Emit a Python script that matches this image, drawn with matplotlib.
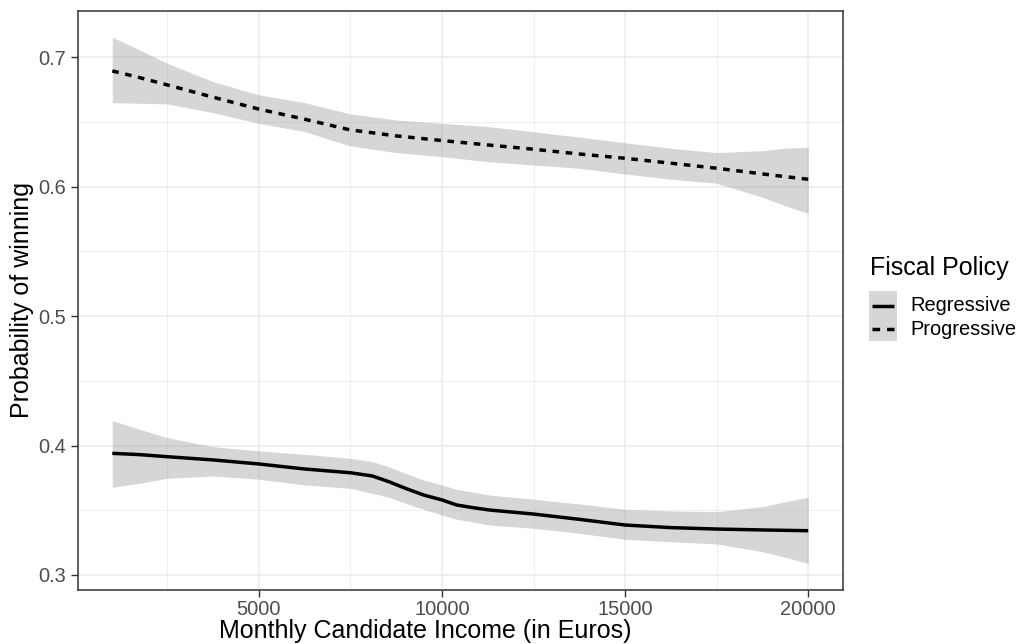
import matplotlib
matplotlib.use('Agg')
import matplotlib.pyplot as plt
from matplotlib.lines import Line2D
from matplotlib.patches import Rectangle

plt.rcParams['font.family'] = ['Liberation Sans', 'DejaVu Sans']

# monthly income grid used for the smoothed predictions
income = [1000, 1750, 2500, 3750, 5000, 6250, 7500, 8750, 10000,
          11250, 12500, 13750, 15000, 16250, 17500, 18750, 19375, 20000]

# progressive fiscal policy: fit and 95% band
prog_fit = [0.6895, 0.6843, 0.6787, 0.6692, 0.6600, 0.6522, 0.6439, 0.6393, 0.6357,
            0.6323, 0.6290, 0.6253, 0.6220, 0.6182, 0.6143, 0.6099, 0.6078, 0.6058]
prog_hi = [0.7155, 0.7057, 0.6954, 0.6812, 0.6710, 0.6650, 0.6563, 0.6516, 0.6490,
           0.6465, 0.6426, 0.6383, 0.6340, 0.6297, 0.6264, 0.6279, 0.6298, 0.6305]
prog_lo = [0.6650, 0.6645, 0.6640, 0.6573, 0.6490, 0.6426, 0.6315, 0.6264, 0.6233,
           0.6194, 0.6168, 0.6143, 0.6099, 0.6058, 0.6027, 0.5919, 0.5852, 0.5795]

# regressive fiscal policy (denser grid around the drop near 9000)
reg_income = [1000, 1750, 2500, 3750, 5000, 6250, 7500, 8100, 8550, 9000, 9500,
              10000, 10400, 10850, 11300, 12500, 13750, 15000, 16250, 17500,
              18750, 19375, 20000]
reg_fit = [0.3940, 0.3930, 0.3914, 0.3889, 0.3858, 0.3819, 0.3790, 0.3765, 0.3721,
           0.3670, 0.3618, 0.3580, 0.3541, 0.3520, 0.3502, 0.3471, 0.3430, 0.3386,
           0.3366, 0.3355, 0.3348, 0.3345, 0.3342]
reg_hi = [0.4192, 0.4126, 0.4061, 0.3992, 0.3958, 0.3933, 0.3902, 0.3876, 0.3837,
          0.3786, 0.3734, 0.3696, 0.3662, 0.3640, 0.3618, 0.3585, 0.3549, 0.3508,
          0.3495, 0.3489, 0.3528, 0.3566, 0.3600]
reg_lo = [0.3678, 0.3709, 0.3747, 0.3765, 0.3740, 0.3696, 0.3670, 0.3631, 0.3600,
          0.3554, 0.3508, 0.3464, 0.3430, 0.3410, 0.3386, 0.3361, 0.3322, 0.3276,
          0.3257, 0.3240, 0.3180, 0.3137, 0.3090]

x_ticks = [5000, 10000, 15000, 20000]
y_ticks = [0.3, 0.4, 0.5, 0.6, 0.7]

W, H = 1021, 644
fig = plt.figure(figsize=(W / 100, H / 100), dpi=100)
ax = fig.add_axes([77.5 / W, 1 - 590 / H, (843 - 77.5) / W, (590 - 11) / H])

ribbon = dict(color='#999999', alpha=0.4, linewidth=0, zorder=2)
ax.fill_between(reg_income, reg_lo, reg_hi, **ribbon)
ax.fill_between(income, prog_lo, prog_hi, **ribbon)
ax.plot(reg_income, reg_fit, color='black', lw=2.5, zorder=3,
        solid_capstyle='butt', solid_joinstyle='round')
ax.plot(income, prog_fit, color='black', lw=2.5, zorder=3,
        linestyle=(0, (1.9, 1.9)), dash_capstyle='butt')

ax.set_xlim(50, 20950)
ax.set_ylim(0.2884, 0.7358)
ax.set_xticks(x_ticks)
ax.set_xticklabels([str(t) for t in x_ticks])
ax.set_yticks(y_ticks)
ax.set_yticklabels([f'{t:.1f}' for t in y_ticks])
ax.set_xticks([2500, 7500, 12500, 17500], minor=True)
ax.set_yticks([0.35, 0.45, 0.55, 0.65], minor=True)

ax.grid(True, which='major', color='#EBEBEB', lw=1.1, zorder=0)
ax.grid(True, which='minor', color='#EBEBEB', lw=0.6, zorder=0)
ax.set_axisbelow(True)
ax.tick_params(which='major', length=5, width=1, color='#333333',
               labelsize=14.4, labelcolor='#4D4D4D', pad=3.5)
ax.tick_params(axis='x', which='major', pad=2)
ax.tick_params(which='minor', length=0)
for s in ax.spines.values():
    s.set_color('#333333')
    s.set_linewidth(1.1)


# titles and legend placed in figure pixel space
def fx(px):
    return px / W


def fy(py):
    return 1 - py / H


fig.text(fx(425), fy(631), 'Monthly Candidate Income (in Euros)', fontsize=18,
         ha='center', va='center')
fig.text(fx(22), fy(300.5), 'Probability of winning', fontsize=18,
         ha='center', va='center', rotation=90)

fig.text(fx(870.5), fy(268), 'Fiscal Policy', fontsize=18, va='center', ha='left')
fig.add_artist(Rectangle((fx(869), fy(341)), fx(897) - fx(869), fy(291) - fy(341),
                         transform=fig.transFigure, facecolor='#D6D6D6', edgecolor='none'))
fig.add_artist(Line2D([fx(872), fx(894)], [fy(305.7)] * 2, transform=fig.transFigure,
                      color='black', lw=2.5, solid_capstyle='butt'))
fig.add_artist(Line2D([fx(872), fx(894)], [fy(329)] * 2, transform=fig.transFigure,
                      color='black', lw=2.5, linestyle=(0, (2.2, 2.0)), dash_capstyle='butt'))
fig.text(fx(910), fy(305.7), 'Regressive', fontsize=14.4, va='center', ha='left')
fig.text(fx(910), fy(329), 'Progressive', fontsize=14.4, va='center', ha='left')

fig.savefig('out.png', dpi=100)
